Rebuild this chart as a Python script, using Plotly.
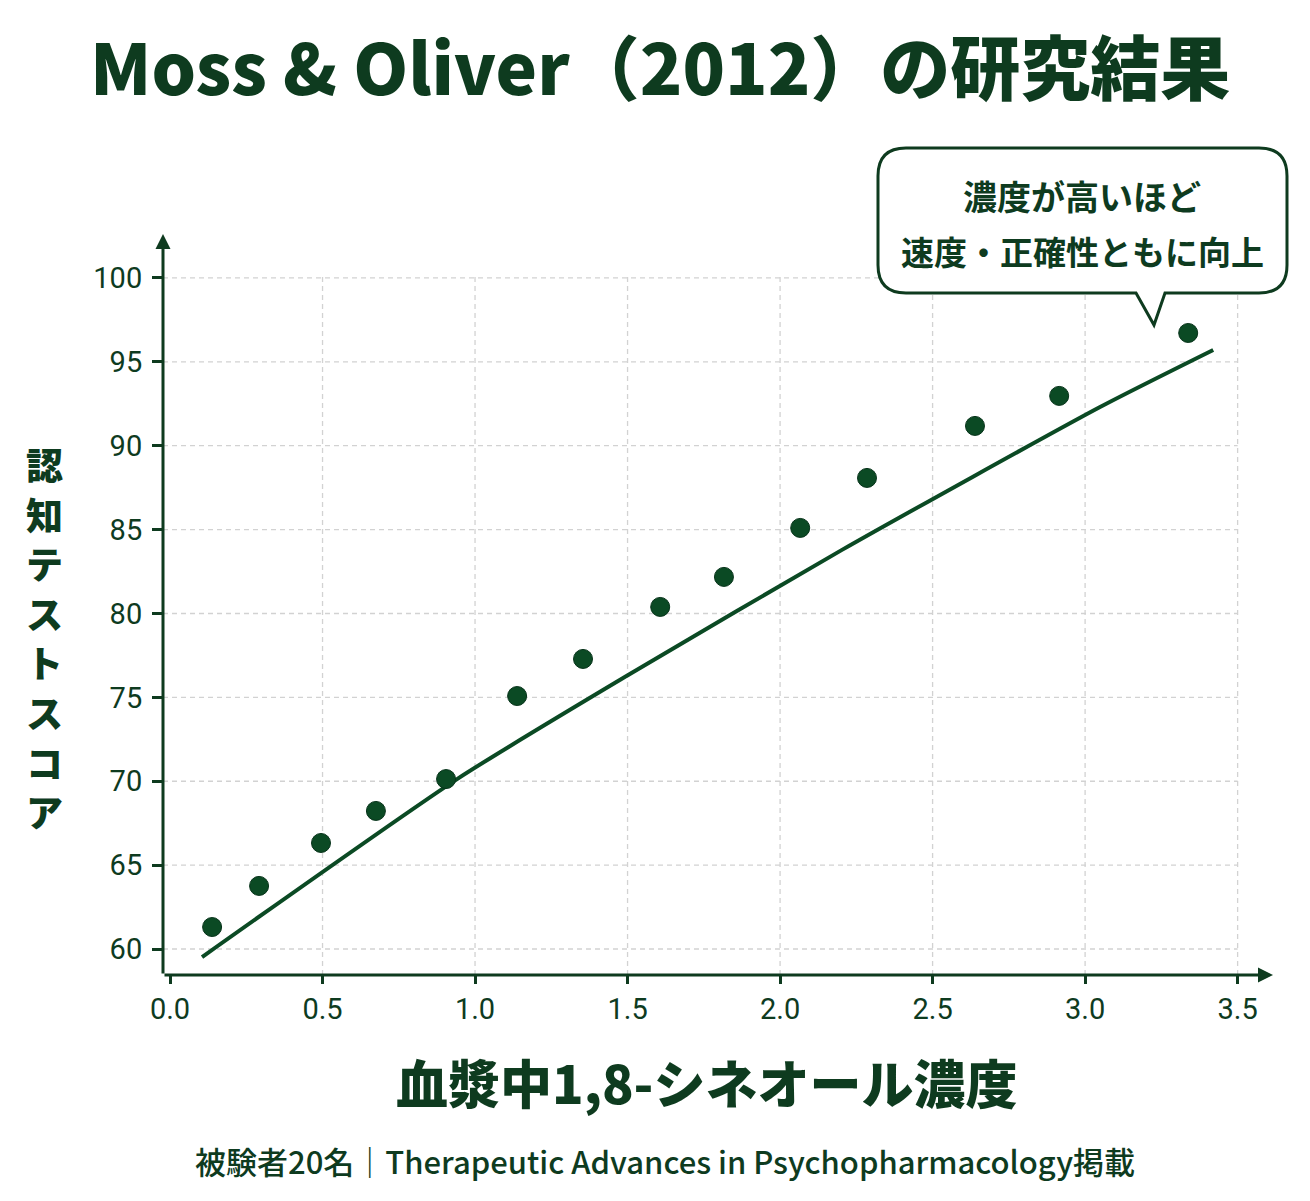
import plotly.graph_objects as go

# ---------------- data ----------------
concentration = [0.138, 0.292, 0.495, 0.675, 0.905, 1.138, 1.354, 1.607,
                 1.816, 2.066, 2.285, 2.639, 2.915, 3.338]
score = [61.31, 63.76, 66.32, 68.23, 70.13, 75.08, 77.29, 80.39,
         82.18, 85.10, 88.08, 91.18, 92.97, 96.72]
trend_x = [0.105, 0.941, 1.502, 2.203, 3.049, 3.420]
trend_y = [59.52, 70.13, 76.33, 83.79, 92.31, 95.71]
x_ticks = [0.0, 0.5, 1.0, 1.5, 2.0, 2.5, 3.0, 3.5]
y_ticks = [60, 65, 70, 75, 80, 85, 90, 95, 100]

title_text = "Moss & Oliver（2012）の研究結果"
x_title = "血漿中1,8-シネオール濃度"
y_title = "認知テストスコア"
callout_lines = ["濃度が高いほど", "速度・正確性ともに向上"]
footer_text = "被験者20名｜Therapeutic Advances in Psychopharmacology掲載"

# ---------------- style ----------------
W, H = 1310, 1201
L, R, T, B = 163, 37, 234, 226
PW, PH = W - L - R, H - T - B
DARK = "#0e3b1f"
GREEN = "#0b4a24"
GRID = "#d2d2d2"
JP = "Noto Sans CJK JP"

x_range = [-0.023, 3.616]
y_range = [58.45, 102.62]


def px(x, y):
    """pixel position in the page -> paper coordinates"""
    return (x - L) / PW, (H - B - y) / PH


fig = go.Figure()

fig.add_trace(go.Scatter(
    x=trend_x, y=trend_y, mode="lines",
    line=dict(color=GREEN, width=4, shape="spline", smoothing=0.6),
    hoverinfo="skip", showlegend=False,
))
fig.add_trace(go.Scatter(
    x=concentration, y=score, mode="markers",
    marker=dict(color=GREEN, size=19, line=dict(color="#07331a", width=1)),
    showlegend=False,
))

shapes = []
# dashed grid limited to the tick span
for yv in y_ticks:
    shapes.append(dict(type="line", xref="x", yref="y", layer="below",
                       x0=x_range[0], x1=x_ticks[-1], y0=yv, y1=yv,
                       line=dict(color=GRID, width=1.3, dash="5px,4px")))
for xv in x_ticks[1:]:
    shapes.append(dict(type="line", xref="x", yref="y", layer="below",
                       x0=xv, x1=xv, y0=y_range[0], y1=y_ticks[-1] + 0.25,
                       line=dict(color=GRID, width=1.3, dash="5px,4px")))

# speech-bubble callout
bl, br, bt, bb, r = 878, 1287, 148, 293, 28
tail_r, tail_tip, tail_l = (1165, bb), (1154, 325), (1136, bb)
pts = [
    ("M", (bl + r, bt)), ("L", (br - r, bt)), ("Q", (br, bt), (br, bt + r)),
    ("L", (br, bb - r)), ("Q", (br, bb), (br - r, bb)),
    ("L", tail_r), ("L", tail_tip), ("L", tail_l),
    ("L", (bl + r, bb)), ("Q", (bl, bb), (bl, bb - r)),
    ("L", (bl, bt + r)), ("Q", (bl, bt), (bl + r, bt)),
]
path = ""
for item in pts:
    cmd = item[0]
    coords = " ".join("%.5f,%.5f" % px(*p) for p in item[1:])
    path += f"{cmd} {coords} "
path += "Z"
shapes.append(dict(type="path", xref="paper", yref="paper", path=path,
                   fillcolor="white", line=dict(color=DARK, width=3), layer="above"))

annotations = []
# axis lines with arrow heads
annotations.append(dict(x=x_range[1], y=y_range[0], ax=x_range[0], ay=y_range[0],
                        xref="x", yref="y", axref="x", ayref="y", text="",
                        showarrow=True, arrowhead=2, arrowsize=1, arrowwidth=3,
                        arrowcolor=DARK, standoff=0))
annotations.append(dict(x=x_range[0], y=y_range[1], ax=x_range[0], ay=y_range[0],
                        xref="x", yref="y", axref="x", ayref="y", text="",
                        showarrow=True, arrowhead=2, arrowsize=1, arrowwidth=3,
                        arrowcolor=DARK, standoff=0))


def text_at(x, y, text, size, weight=700, family=JP):
    xp, yp = px(x, y)
    annotations.append(dict(x=xp, y=yp, xref="paper", yref="paper", text=text,
                            showarrow=False, xanchor="center", yanchor="middle",
                            font=dict(family=family, size=size, color=DARK, weight=weight)))


text_at(660, 64, title_text, 70, weight=900)
# vertical (stacked, upright) y-axis title
y_top, pitch = 464, 49.6
for i, ch in enumerate(y_title):
    text_at(44, y_top + i * pitch, ch, 37, weight=900)
text_at(707, 1081, x_title, 52, weight=900)
text_at(665, 1160, footer_text, 31, weight=500)
text_at(1082, 195, callout_lines[0], 34)
text_at(1082, 251, callout_lines[1], 33)

tickfont = dict(family="Roboto", size=29, color=DARK)
fig.update_layout(
    width=W, height=H, autosize=False,
    margin=dict(l=L, r=R, t=T, b=B, pad=0),
    paper_bgcolor="white", plot_bgcolor="white",
    shapes=shapes, annotations=annotations, showlegend=False,
    xaxis=dict(range=x_range, tickvals=x_ticks, tickformat=".1f",
               showgrid=False, zeroline=False, showline=False,
               ticks="outside", ticklen=8, tickwidth=2.5, tickcolor=DARK,
               tickfont=tickfont, automargin=False, fixedrange=True),
    yaxis=dict(range=y_range, tickvals=y_ticks,
               showgrid=False, zeroline=False, showline=False,
               ticks="outside", ticklen=10, tickwidth=2.5, tickcolor=DARK,
               tickfont=tickfont, ticklabelstandoff=4,
               automargin=False, fixedrange=True),
)

fig.write_html("out.html")
